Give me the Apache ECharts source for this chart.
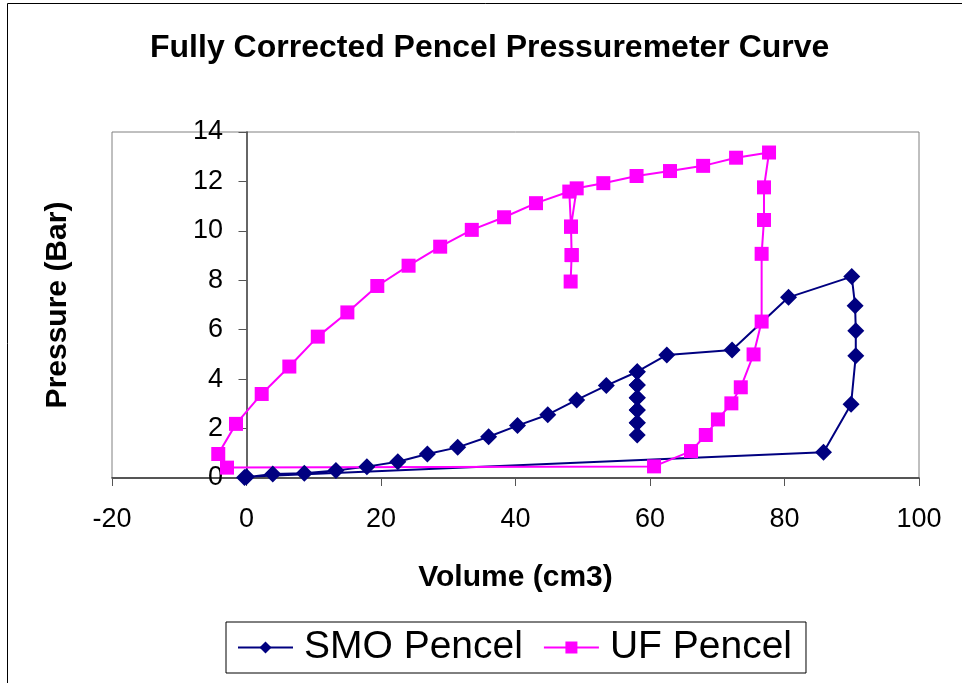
<!DOCTYPE html>
<html>
<head>
<meta charset="utf-8">
<script src="https://cdn.jsdelivr.net/npm/echarts@6/dist/echarts.min.js"></script>
<style>
  html, body { margin: 0; padding: 0; background: #fff; }
  #chart { width: 962px; height: 683px; }
</style>
</head>
<body>
<div id="chart"></div>
<script>
const FONT = "Liberation Sans, Arial, sans-serif";

// SMO Pencel (volume cm3, pressure bar), in test order
const smoVolume   = [-0.3, 3.9, 8.6, 13.3, 17.9, 22.5, 26.9, 31.4, 36.0, 40.3, 44.8, 49.1, 53.5, 58.1,
                     58.1, 58.1, 58.1, 58.1, 58.1, 58.1, 58.1, 58.1, 58.1, 58.1,
                     62.5, 72.2, 80.6, 90.0, 90.5, 90.6, 90.6, 89.9, 85.8, 0.0];
const smoPressure = [0.02, 0.16, 0.19, 0.30, 0.46, 0.66, 0.97, 1.24, 1.67, 2.12, 2.56, 3.16, 3.74, 4.30,
                     3.76, 3.25, 2.75, 2.24, 1.74, 2.24, 2.75, 3.25, 3.76, 4.30,
                     4.98, 5.18, 7.31, 8.15, 6.97, 5.96, 4.95, 2.98, 1.04, 0.05];

// UF Pencel
const ufVolume   = [-4.2, -1.56, 2.26, 6.37, 10.6, 15.0, 19.45, 24.1, 28.8, 33.5, 38.3, 43.05, 48.0,
                    48.25, 48.35, 48.2, 48.35, 48.25, 49.1, 53.06, 58.0, 62.97, 67.9, 72.8, 77.7,
                    76.95, 76.95, 76.6, 76.6, 75.4, 73.5, 72.1, 70.1, 68.3, 66.1, 60.6, -2.9];
const ufPressure = [0.97, 2.19, 3.40, 4.51, 5.72, 6.70, 7.77, 8.59, 9.36, 10.04, 10.55, 11.12, 11.59,
                    10.17, 9.02, 7.95, 9.02, 10.17, 11.72, 11.93, 12.22, 12.42, 12.63, 12.96, 13.17,
                    11.76, 10.44, 9.07, 6.33, 5.00, 3.67, 3.02, 2.37, 1.74, 1.09, 0.47, 0.42];

const pairs = (xs, ys) => xs.map((x, i) => [x, ys[i]]);

const chart = echarts.init(document.getElementById("chart"));
chart.setOption({
  animation: false,
  backgroundColor: "#fff",
  title: {
    text: "Fully Corrected Pencel Pressuremeter Curve",
    left: 145, top: 27,
    textStyle: { fontFamily: FONT, fontSize: 32, fontWeight: "bold", color: "#000" }
  },
  graphic: [
    {
      type: "rect", silent: true,
      shape: { x: 7.5, y: 3.5, width: 1200, height: 1200 },
      style: { fill: "none", stroke: "#000", lineWidth: 1 }
    },
    {
      type: "text", silent: true,
      x: 58, y: 305, rotation: Math.PI / 2,
      style: {
        text: "Pressure (Bar)", fill: "#000",
        font: "bold 30px " + FONT,
        textAlign: "center", textVerticalAlign: "middle"
      }
    }
  ],
  legend: {
    left: 226, top: 622,
    itemWidth: 55, itemHeight: 15, itemGap: 20,
    padding: [6, 14, 6, 11],
    borderColor: "#000", borderWidth: 1,
    textStyle: { fontFamily: FONT, fontSize: 39, color: "#000", padding: [0, 0, 0, 6] },
    data: ["SMO Pencel", "UF Pencel"]
  },
  grid: {
    left: 112, top: 132, width: 807, height: 346,
    containLabel: false, outerBoundsMode: "none",
    show: true, borderColor: "#808080", borderWidth: 1
  },
  xAxis: {
    type: "value", min: -20, max: 100, interval: 20,
    name: "Volume (cm3)", nameLocation: "middle", nameGap: 85,
    nameTextStyle: { fontFamily: FONT, fontSize: 30, fontWeight: "bold", color: "#000" },
    axisLine: { lineStyle: { color: "#333", width: 1.5 } },
    axisTick: { inside: false, length: 8, lineStyle: { color: "#555" } },
    axisLabel: { margin: 28, fontFamily: FONT, fontSize: 27, color: "#000" },
    splitLine: { show: false }
  },
  yAxis: {
    type: "value", min: 0, max: 14, interval: 2,
    axisLine: { onZero: true, lineStyle: { color: "#333", width: 1.5 } },
    axisTick: { inside: false, length: 8, lineStyle: { color: "#555" } },
    axisLabel: { margin: -111, fontFamily: FONT, fontSize: 27, color: "#000" },
    splitLine: { show: false }
  },
  series: [
    {
      name: "SMO Pencel", type: "line",
      data: pairs(smoVolume, smoPressure),
      symbol: "diamond", symbolSize: 17, showAllSymbol: true,
      lineStyle: { color: "#000080", width: 2 },
      itemStyle: { color: "#000080" }
    },
    {
      name: "UF Pencel", type: "line",
      data: pairs(ufVolume, ufPressure),
      symbol: "rect", symbolSize: 14, showAllSymbol: true,
      lineStyle: { color: "#ff00ff", width: 2 },
      itemStyle: { color: "#ff00ff" }
    }
  ]
});
</script>
</body>
</html>
